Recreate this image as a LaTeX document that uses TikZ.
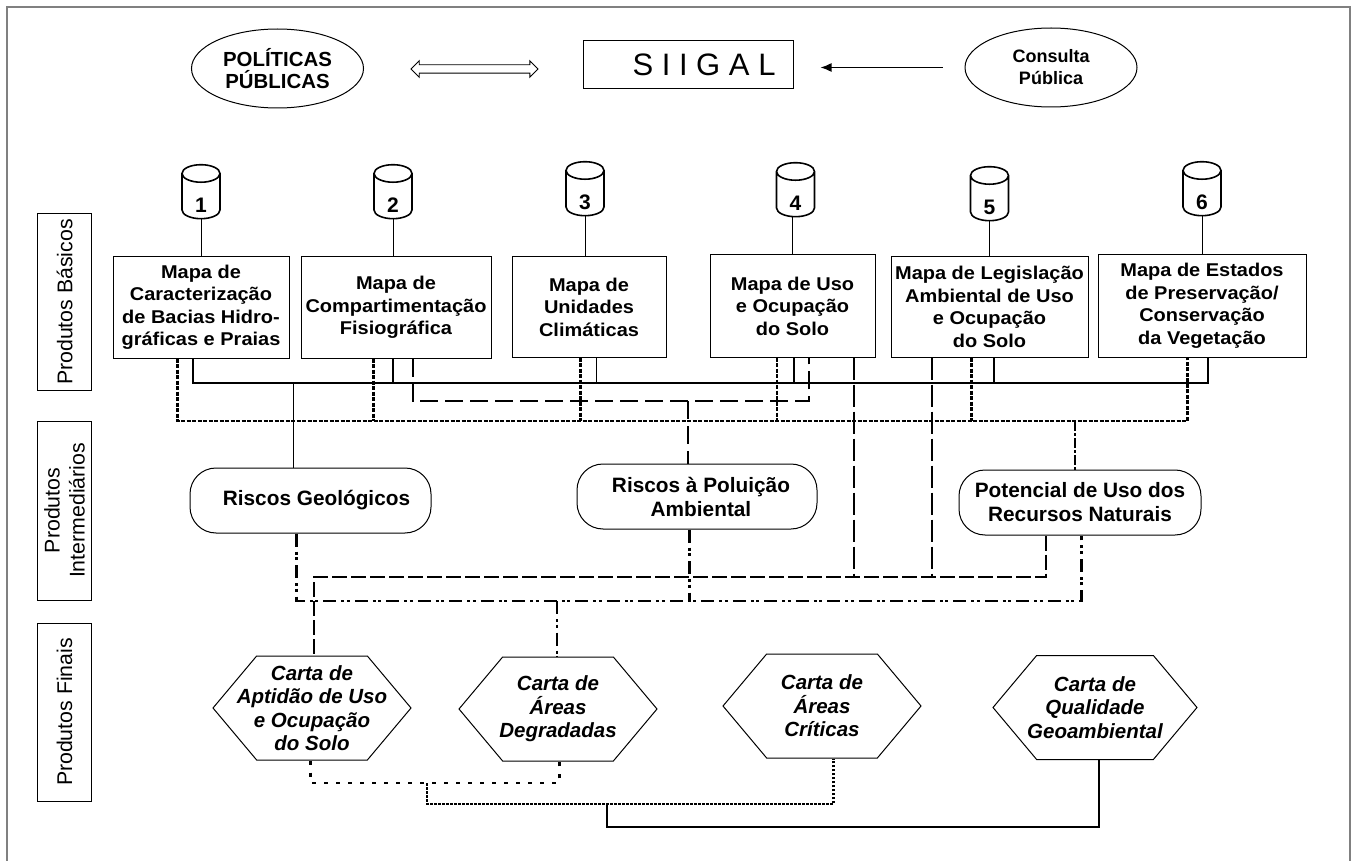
\documentclass[tikz,border=0pt]{standalone}
\usepackage{fontspec}
\setmainfont{Liberation Sans}
\newfontfamily\widefont[FakeStretch=1.08]{Liberation Sans}
\newcommand{\basenum}[1]{\smash{\raisebox{-16pt}{#1}}}
\usetikzlibrary{positioning,arrows.meta,shapes.geometric,shapes.symbols,shapes.arrows}

\begin{document}
\begin{tikzpicture}[
  x=1pt,y=-1pt,
  line width=1pt,
  side node/.style={
    draw,
    inner sep=0pt,
    rotate=90,
    minimum height=54pt,
    align=center,
    font=\fontsize{21.3}{25}\selectfont,
  },
  map node/.style={
    draw,
    inner sep=0pt,
    minimum height=#1,
    align=center,
    font=\widefont\bfseries\fontsize{18.5}{22.5}\selectfont,
  },
  base node/.style={
    draw,
    cylinder,
    shape border rotate=90,
    aspect=1.5,
    line width=1.6pt,
    inner sep=0pt,
    minimum width=38pt,
    minimum height=54pt,
    font=\bfseries\fontsize{21}{23}\selectfont,
  },
  risk node/.style={
    draw,
    rounded corners=26pt,
    inner sep=0pt,
    minimum height=65pt,
    align=center,
    font=\bfseries\fontsize{20.8}{24}\selectfont,
  },
  chart node/.style={
    draw,
    signal,
    signal to=west and east,
    signal pointer angle=100,
    inner ysep=0pt,
    inner xsep=-30pt,
    minimum height=104pt,
    align=center,
    font=\bfseries\itshape\fontsize{20.5}{23.5}\selectfont,
  },
  oval node/.style={
    draw,
    ellipse,
    inner sep=0pt,
    minimum width=172pt,
    minimum height=79pt,
    align=center,
  },
  solid bus/.style={line width=1.8pt},
  dot bus/.style={line width=2.6pt,dash pattern=on 4pt off 1.5pt},
  gap bus/.style={line width=2.6pt,dash pattern=on 4pt off 8pt},
  fine bus/.style={line width=2.6pt,dash pattern=on 2.5pt off 1.5pt},
  dash bus/.style={line width=2.2pt,dash pattern=on 18pt off 7pt},
  long bus/.style={line width=2.2pt,dash pattern=on 22pt off 5pt},
  mixed bus/.style={line width=2.6pt,dash pattern=on 13pt off 5pt on 3pt off 2.5pt on 3pt off 5pt},
  ]
  \useasboundingbox (0,0) rectangle (1353,861);
  \draw[line width=2pt,gray] (7,861) -- (7,7) -- (1350,7) -- (1350,861);

  \node[oval node,font=\bfseries\fontsize{20.4}{22}\selectfont] (politicas) at (277.5,68.5) {POLÍTICAS\\PÚBLICAS};
  \node[draw,inner sep=0pt,minimum width=210pt,minimum height=48pt,font=\fontsize{31}{33}\selectfont] (siigal) at (688,65) {\hspace*{32pt}S I I G A L};
  \node[oval node,font=\bfseries\fontsize{18}{22}\selectfont] (consulta) at (1051,67.5) {Consulta\\Pública};

  \node[draw,double arrow,double arrow head extend=4pt,double arrow head indent=0pt,
    inner sep=0pt,inner ysep=3.75pt,minimum height=127pt,line width=.9pt] (troca) at (474.5,69) {};
  \draw[-{Latex[length=11pt,width=9pt]},line width=1.4pt,
    shorten <=22pt,shorten >=27pt] (consulta.west) -- (consulta.west -| siigal.east);

  \node[side node,minimum width=177pt] (basicos) at (64.6,302) {Produtos Básicos};
  \node[side node,minimum width=179pt] (intermed) at (64.6,510.5) {Produtos\\Intermediários};
  \node[side node,minimum width=178pt] (finais) at (64.6,712) {Produtos Finais};

  \node[map node=101pt,minimum width=176pt] (map1) at (201,307.5)
  {Mapa de\\Caracterização\\de Bacias Hidro-\\gráficas e Praias};
  \node[map node=101pt,minimum width=190pt] (map2) at (396,307.5)
  {Mapa de\\Compartimentação\\Fisiográfica};
  \node[map node=100pt,minimum width=154pt] (map3) at (589,307)
  {Mapa de\\Unidades\\Climáticas};
  \node[map node=102pt,minimum width=165pt] (map4) at (792.5,306)
  {Mapa de Uso\\e Ocupação\\do Solo};
  \node[map node=100pt,minimum width=197pt] (map5) at (989.5,307)
  {Mapa de Legislação\\Ambiental de Uso\\e Ocupação\\do Solo};
  \node[map node=102pt,minimum width=208pt] (map6) at (1202,306)
  {Mapa de Estados\\de Preservação/\\Conservação\\da Vegetação};

  \node[base node,above=37pt of map1] (base1) {\basenum{1}};
  \node[base node,above=37pt of map2,xshift=-3pt] (base2) {\basenum{2}};
  \node[base node,above=40pt of map3,xshift=-4pt] (base3) {\basenum{3}};
  \node[base node,above=37pt of map4,xshift=3pt] (base4) {\basenum{4}};
  \node[base node,above=35pt of map5] (base5) {\basenum{5}};
  \node[base node,above=38pt of map6] (base6) {\basenum{6}};

  \path[draw]
  (base1.south) -- (base1.south |- map1.north)
  (base2.south) -- (base2.south |- map2.north)
  (base3.south) -- (base3.south |- map3.north)
  (792,0 |- base4.south) -- (792,0 |- map4.north)
  (base5.south) -- (base5.south |- map5.north)
  (base6.south) -- (base6.south |- map6.north);

  \node[risk node,minimum width=241pt] (geologicos) at (310.5,500.5) {\hspace*{12pt}Riscos Geológicos};
  \node[risk node,minimum width=240pt] (poluicao) at (697,496.5) {\hspace*{8pt}Riscos à Poluição\\\hspace*{8pt}Ambiental};
  \node[risk node,minimum width=242pt] (potencial) at (1080,502.5) {Potencial de Uso dos\\Recursos Naturais};

  \node[chart node,minimum width=198pt] (aptidao) at (312,708) {Carta de\\Aptidão de Uso\\e Ocupação\\do Solo};
  \node[chart node,minimum width=198pt] (degradadas) at (558,709) {Carta de\\Áreas\\Degradadas};
  \node[chart node,minimum width=198pt] (criticas) at (822,706) {Carta de\\Áreas\\Críticas};
  \node[chart node,minimum width=204pt] (qualidade) at (1095,707.5) {Carta de\\Qualidade\\Geoambiental};

  \coordinate (bus top) at (0,383);
  \coordinate (bus dash) at (0,401);
  \coordinate (bus dot) at (0,421);
  \coordinate (bus up) at (0,577);
  \coordinate (bus low) at (0,601);

  % produtos basicos
  \path[draw,solid bus]
  (193,0 |- map1.south) -- (193,0 |- bus top) -- (1208,0 |- bus top) -- (1208,0 |- map6.south)
  (392.8,0 |- map2.south) -- (392.8,0 |- bus top)
  (596.4,0 |- map3.south) -- (596.4,0 |- bus top)
  (794.3,0 |- map4.south) -- (794.3,0 |- bus top)
  (994.3,0 |- map5.south) -- (994.3,0 |- bus top);
  \path[draw] (293.6,0 |- bus top) -- (293.6,0 |- geologicos.north);

  \path[draw,dot bus]
  (177.7,0 |- map1.south) -- (177.7,0 |- bus dot) -- (1187.5,0 |- bus dot) -- (1187.5,0 |- map6.south)
  (373.6,0 |- map2.south) -- (373.6,0 |- bus dot)
  (580.3,0 |- map3.south) -- (580.3,0 |- bus dot)
  (971.4,0 |- map5.south) -- (971.4,0 |- bus dot);
  \path[draw,dot bus,line width=1.6pt] (776.8,0 |- map4.south) -- (776.8,0 |- bus dot);

  \path[draw,dash bus]
  (412.7,0 |- map2.south) -- (412.7,0 |- bus dash) -- (808.6,0 |- bus dash) -- (808.6,0 |- map4.south);
  \path[draw,dash bus,line width=1.4pt] (688,0 |- bus dash) -- (688,0 |- poluicao.north);

  \path[draw,long bus]
  (854,0 |- map4.south) -- (854,0 |- bus up)
  (932,0 |- map5.south) -- (932,0 |- bus up);
  \path[draw,mixed bus,dash pattern=on 10pt off 2pt on 3pt off 2pt] (1075,0 |- bus dot) -- (1075,0 |- potencial.north);

  % produtos intermediarios
  \path[draw,mixed bus]
  (296.4,0 |- geologicos.south) -- (296.4,0 |- bus low) -- (1081.7,0 |- bus low) -- (1081.7,0 |- potencial.south)
  (689.6,0 |- poluicao.south) -- (689.6,0 |- bus low)
  (557,0 |- bus low) -- (557,0 |- degradadas.north);
  \path[draw,long bus,dash pattern=on 15pt off 4pt]
  (1046,0 |- potencial.south) -- (1046,0 |- bus up) -- (313.6,0 |- bus up) -- (313.6,0 |- aptidao.north);

  % produtos finais
  \coordinate (end gap) at (0,783);
  \coordinate (end fine) at (0,804);
  \coordinate (end solid) at (0,827);
  \path[draw,gap bus]
  (310.6,0 |- aptidao.south) -- (310.6,0 |- end gap) -- (559.4,0 |- end gap) -- (559.4,0 |- degradadas.south);
  \path[draw,fine bus]
  (427,0 |- end gap) -- (427,0 |- end fine) -- (833.4,0 |- end fine) -- (833.4,0 |- criticas.south);
  \path[draw,solid bus,line width=2pt]
  (607,0 |- end fine) -- (607,0 |- end solid) -- (1098.6,0 |- end solid) -- (1098.6,0 |- qualidade.south);
\end{tikzpicture}
\end{document}
